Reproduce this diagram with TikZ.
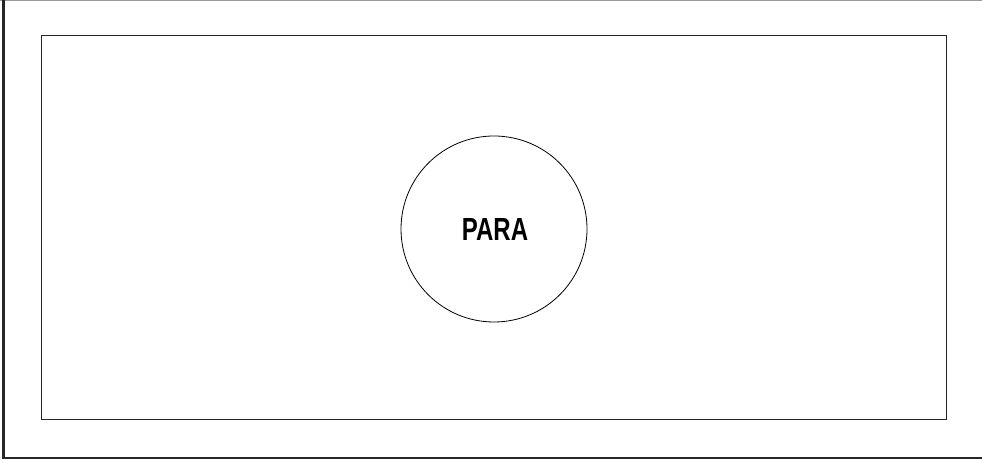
\documentclass[tikz,border=0pt]{standalone}
\usepackage{fontspec}
\setmainfont{Liberation Sans}
\usetikzlibrary{positioning}
\begin{document}
\begin{tikzpicture}[x=1pt,y=1pt]
            \tikzstyle{frame}=[draw=black!85, line width=1pt, minimum width=905pt, minimum height=384pt, inner sep=0pt]
            \tikzstyle{vertex}=[circle, draw, line width=0.8pt, minimum size=186pt, inner sep=0pt, font=\fontsize{32}{32}\bfseries]

            \useasboundingbox (0,0) rectangle (982,462);
            \draw[black!40, line width=1pt] (0,461.5) -- (982,461.5);
            \draw[black!85, line width=2.5pt] (3.5,461.5) -- (3.5,4) -- (982,4);

            \node[frame] (box) at (493.5,234) {};
            \node[vertex] (para) at (494,233) {\hspace{2pt}\scalebox{0.75}[1]{PARA}};
        \end{tikzpicture}
\end{document}
